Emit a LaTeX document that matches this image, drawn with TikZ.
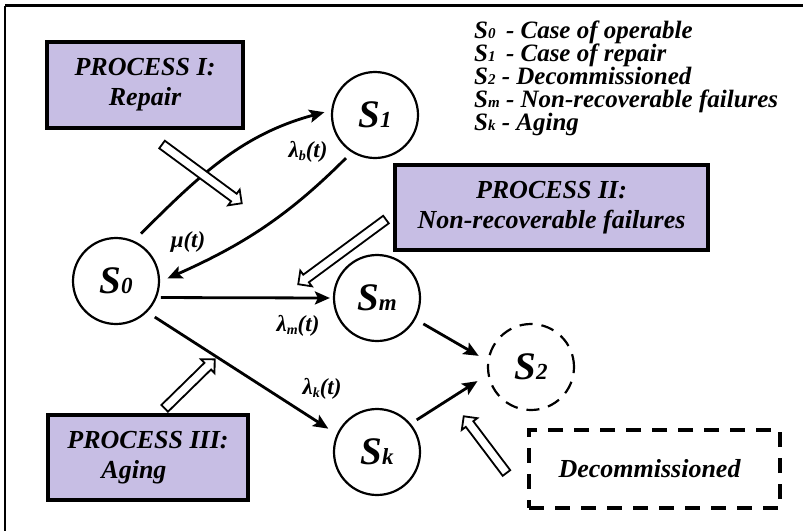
\documentclass[tikz,border=0pt]{standalone}
\usepackage{fontspec}
\setmainfont{Liberation Serif}
\usetikzlibrary{arrows.meta,shapes.arrows}
\definecolor{procfill}{RGB}{199,190,228}

% state label: big S with a smaller index on the baseline
\newcommand{\stlab}[1]{S{\fontsize{23}{23}\selectfont #1}}
% small index used in the legend and on the rates
\newcommand{\lgsub}[1]{{\fontsize{15}{15}\selectfont #1}}
\newcommand{\rtsub}[1]{\raisebox{-3pt}{\fontsize{14}{14}\selectfont #1}}

\begin{document}
\begin{tikzpicture}[x=1pt,y=1pt,
  state/.style={circle, draw, line width=2.2pt, minimum size=86pt, inner sep=0pt,
    font=\fontsize{39}{39}\selectfont\bfseries\itshape},
  endstate/.style={state, dash pattern=on 13pt off 9pt},
  procbox/.style={draw, line width=3.5pt, fill=procfill, align=center, inner sep=0pt,
    font=\fontsize{26}{30}\selectfont\bfseries\itshape},
  endbox/.style={draw, line width=3.5pt, dash pattern=on 15pt off 11pt, inner sep=0pt,
    font=\fontsize{26}{30}\selectfont\bfseries\itshape},
  flow/.style={line width=2.8pt, -{Stealth[length=15pt,width=13pt,inset=3pt]}},
  rate/.style={font=\fontsize{23}{23}\selectfont\bfseries\itshape, inner sep=0pt},
  legend/.style={anchor=base west, inner sep=0pt,
    font=\fontsize{25}{25}\selectfont\bfseries\itshape},
  hollow/.style={single arrow, draw, line width=1.8pt, fill=white, inner sep=3.8pt,
    single arrow head extend=5pt, single arrow head indent=0pt, shape border uses incircle=false}
]
\useasboundingbox (0,0) rectangle (803,-531);

% frame (top and left edges)
\draw[line width=3pt] (5,-5.5) -- (803,-5.5);
\draw[line width=2pt] (5,-5.5) -- (5,-531);

% process boxes
\node[procbox, minimum width=196pt, minimum height=86pt] (p1) at (145,-85)
  {PROCESS I:\\Repair};
\node[procbox, minimum width=313pt, minimum height=85pt] (p2) at (551.5,-207.5)
  {PROCESS II:\\Non-recoverable failures};
\node[procbox, minimum width=200pt, minimum height=85pt, align=left] (p3) at (148,-457.5)
  {PROCESS III:\\\hspace*{34pt}Aging};
\node[endbox, minimum width=251pt, minimum height=78pt] (dc) at (654.5,-469)
  {Decommissioned\hspace*{10pt}};

% states
\node[state] (s0) at (116,-281) {\stlab{0}};
\node[state] (s1) at (375,-115) {\stlab{1}};
\node[state] (sm) at (377,-298) {\stlab{m}};
\node[state] (sk) at (377,-452) {\stlab{k}};
\node[endstate] (s2) at (531,-367) {\stlab{2}};

% transitions
\draw[flow, shorten <=10pt, shorten >=7pt] (s0.66) to[out=45,in=195] (s1.174);
\draw[flow, shorten <=8pt, shorten >=8pt] (s1.238) to[out=225,in=24] (s0.-1);
\draw[flow, shorten <=4pt, shorten >=3pt] (s0.-22) -- (sm.west);
\draw[flow, shorten <=9pt, shorten >=10pt] (s0.-45) -- (sk.156);
\draw[flow, shorten <=9pt, shorten >=10pt] (sm.-29) -- (s2.172);
\draw[flow, shorten <=7pt, shorten >=12pt] (sk.40) -- (s2.190);

% rates
\node[rate] (rb) at (308,-152) {λ\rtsub{b}(t)};
\node[rate] (rmu) at (188,-242) {μ(t)};
\node[rate] (rm) at (298,-326) {λ\rtsub{m}(t)};
\node[rate] (rk) at (322,-389) {λ\rtsub{k}(t)};

% hollow process arrows
\node[hollow, minimum height=99pt, rotate=-36.4] (a1) at (200,-172.5) {};
\node[hollow, minimum height=109pt, rotate=-143.6] (a2) at (344,-250.5) {};
\node[hollow, minimum height=70pt, rotate=44.4] (a3) at (188,-385.5) {};
\node[hollow, minimum height=71pt, rotate=127] (a4) at (486.5,-446.5) {};

% legend
\node[legend] (l0) at (474,-38) {S\lgsub{0} \,- Case of operable};
\node[legend] (l1) at (474,-61) {S\lgsub{1} \,- Case of repair};
\node[legend] (l2) at (474,-84) {S\lgsub{2} - Decommissioned};
\node[legend] (l3) at (474,-107) {S\lgsub{m}~- Non-recoverable failures};
\node[legend] (l4) at (474,-130) {S\lgsub{k} - Aging};
\end{tikzpicture}
\end{document}
